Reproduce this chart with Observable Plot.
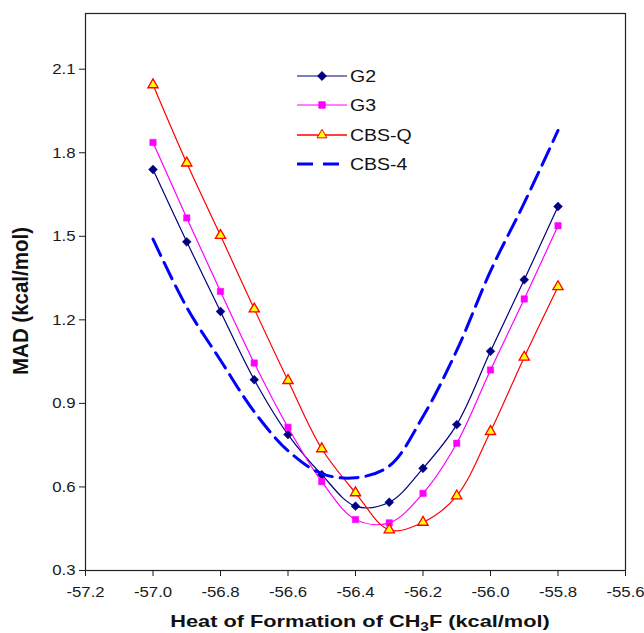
<!DOCTYPE html>
<html>
<head>
<meta charset="utf-8">
<script src="https://cdn.jsdelivr.net/npm/d3@7"></script>
<script src="https://cdn.jsdelivr.net/npm/@observablehq/plot@0.6"></script>
<style>
  html, body { margin: 0; padding: 0; background: #fff; }
  #chart svg { display: block; }
</style>
</head>
<body>
<div id="chart"></div>
<script>
// ---- data ----
const xValues = [-57.0, -56.9, -56.8, -56.7, -56.6, -56.5, -56.4, -56.3, -56.2, -56.1, -56.0, -55.9, -55.8];
const g2   = [1.740, 1.480, 1.230, 0.985, 0.788, 0.644, 0.531, 0.545, 0.667, 0.824, 1.087, 1.344, 1.607];
const g3   = [1.837, 1.566, 1.302, 1.045, 0.814, 0.619, 0.483, 0.471, 0.577, 0.757, 1.020, 1.275, 1.538];
const cbsq = [2.044, 1.763, 1.503, 1.239, 0.982, 0.737, 0.579, 0.446, 0.473, 0.568, 0.799, 1.066, 1.319];
const cbs4 = [1.490, 1.245, 1.055, 0.870, 0.730, 0.648, 0.633, 0.675, 0.853, 1.090, 1.375, 1.620, 1.880];
const seriesNames = ["G2", "G3", "CBS-Q", "CBS-4"];
const xTicks = [-57.2, -57.0, -56.8, -56.6, -56.4, -56.2, -56.0, -55.8, -55.6];
const yTicks = [0.3, 0.6, 0.9, 1.2, 1.5, 1.8, 2.1];
const xTitle = ["Heat of Formation of CH", "3", "F (kcal/mol)"];
const yTitle = "MAD (kcal/mol)";

const toRows = (vals) => xValues.map((x, i) => ({x, y: vals[i]}));
const G2 = toRows(g2), G3 = toRows(g3), CBSQ = toRows(cbsq), CBS4 = toRows(cbs4);

const NAVY = "#000080", MAG = "#FF00FF", RED = "#FF0000", BLUE = "#0000FF", YEL = "#FFFF00";
const SX = 1.12; // horizontal stretch of tick labels seen in the reference
const FONT = "'Liberation Sans', Arial, sans-serif";
const fmt = d => d.toFixed(1);

const chart = Plot.plot({
  width: 644, height: 633,
  marginLeft: 85, marginRight: 19, marginTop: 13, marginBottom: 63,
  style: {fontFamily: FONT, fontSize: "15px", color: "#1a1a1a", background: "#fff"},
  x: {domain: [-57.2, -55.6], label: null},
  y: {domain: [0.3, 2.3], label: null},
  marks: [
    Plot.frame({stroke: "#222", strokeWidth: 1.2}),
    Plot.axisX({ticks: xTicks, tickFormat: fmt, tickSize: 6, tickPadding: 10, label: null, fontSize: 15}),
    Plot.axisY({ticks: yTicks, tickFormat: fmt, tickSize: 6, tickPadding: 4, label: null, fontSize: 15}),
    Plot.line(G2, {x: "x", y: "y", stroke: NAVY, strokeWidth: 1.2, curve: "catmull-rom"}),
    Plot.dot(G2, {x: "x", y: "y", symbol: "diamond2", r: 4, fill: NAVY, stroke: NAVY, strokeWidth: 0.5}),
    Plot.line(G3, {x: "x", y: "y", stroke: MAG, strokeWidth: 1.2, curve: "catmull-rom"}),
    Plot.dot(G3, {x: "x", y: "y", symbol: "square", r: 3.6, fill: MAG, stroke: MAG, strokeWidth: 0.5}),
    Plot.line(CBSQ, {x: "x", y: "y", stroke: RED, strokeWidth: 1.2, curve: "catmull-rom"}),
    Plot.dot(CBSQ, {x: "x", y: "y", symbol: "triangle", r: 3.8, fill: YEL, stroke: RED, strokeWidth: 1.3}),
    Plot.line(CBS4, {x: "x", y: "y", stroke: BLUE, strokeWidth: 3, strokeDasharray: "18,8", curve: "catmull-rom"})
  ]
});
document.getElementById("chart").appendChild(chart);

// stretch the axis tick labels horizontally like the reference (keep Plot's own x/y offsets)
const svg = d3.select(chart);
chart.querySelectorAll('g[aria-label="x-axis tick label"] text, g[aria-label="y-axis tick label"] text').forEach(el => {
  const t = el.getAttribute("transform") || "";
  el.setAttribute("transform", t + ` scale(${SX},1)`);
});

// axis titles
const xt = svg.append("text")
  .attr("transform", `translate(360,627) scale(1.28,1)`)
  .attr("text-anchor", "middle")
  .attr("font-family", FONT)
  .attr("font-weight", "bold").attr("font-size", 17).attr("fill", "#111");
xt.append("tspan").text(xTitle[0]);
xt.append("tspan").attr("font-size", 12).attr("dy", 4).text(xTitle[1]);
xt.append("tspan").attr("dy", -4).text(xTitle[2]);

svg.append("text")
  .attr("transform", `translate(28,301) scale(1.1,1) rotate(-90)`)
  .attr("text-anchor", "middle")
  .attr("font-family", FONT)
  .attr("font-weight", "bold").attr("font-size", 20.5).attr("fill", "#111")
  .text(yTitle);

// legend
const legY = [76, 105, 135, 164];
const lg = svg.append("g");
const styles = [
  {stroke: NAVY, w: 1.2, dash: null, sym: d3.symbolDiamond2, size: 50, fill: NAVY, sstroke: NAVY},
  {stroke: MAG, w: 1.2, dash: null, sym: d3.symbolSquare, size: 40, fill: MAG, sstroke: MAG},
  {stroke: RED, w: 1.5, dash: null, sym: d3.symbolTriangle, size: 42, fill: YEL, sstroke: RED},
  {stroke: BLUE, w: 3, dash: "16,10", sym: null}
];
seriesNames.forEach((name, i) => {
  const s = styles[i], y = legY[i];
  lg.append("line").attr("x1", 297).attr("x2", 347).attr("y1", y).attr("y2", y)
    .attr("stroke", s.stroke).attr("stroke-width", s.w).attr("stroke-dasharray", s.dash);
  if (s.sym) {
    lg.append("path").attr("d", d3.symbol(s.sym, s.size)())
      .attr("transform", `translate(322,${y})`)
      .attr("fill", s.fill).attr("stroke", s.sstroke).attr("stroke-width", 1);
  }
  lg.append("text")
    .attr("transform", `translate(350,${y}) scale(1.22,1)`)
    .attr("text-anchor", "start")
    .attr("dy", "0.36em")
    .attr("font-family", FONT)
    .attr("font-size", 16).attr("fill", "#111")
    .text(name);
});
</script>
</body>
</html>
